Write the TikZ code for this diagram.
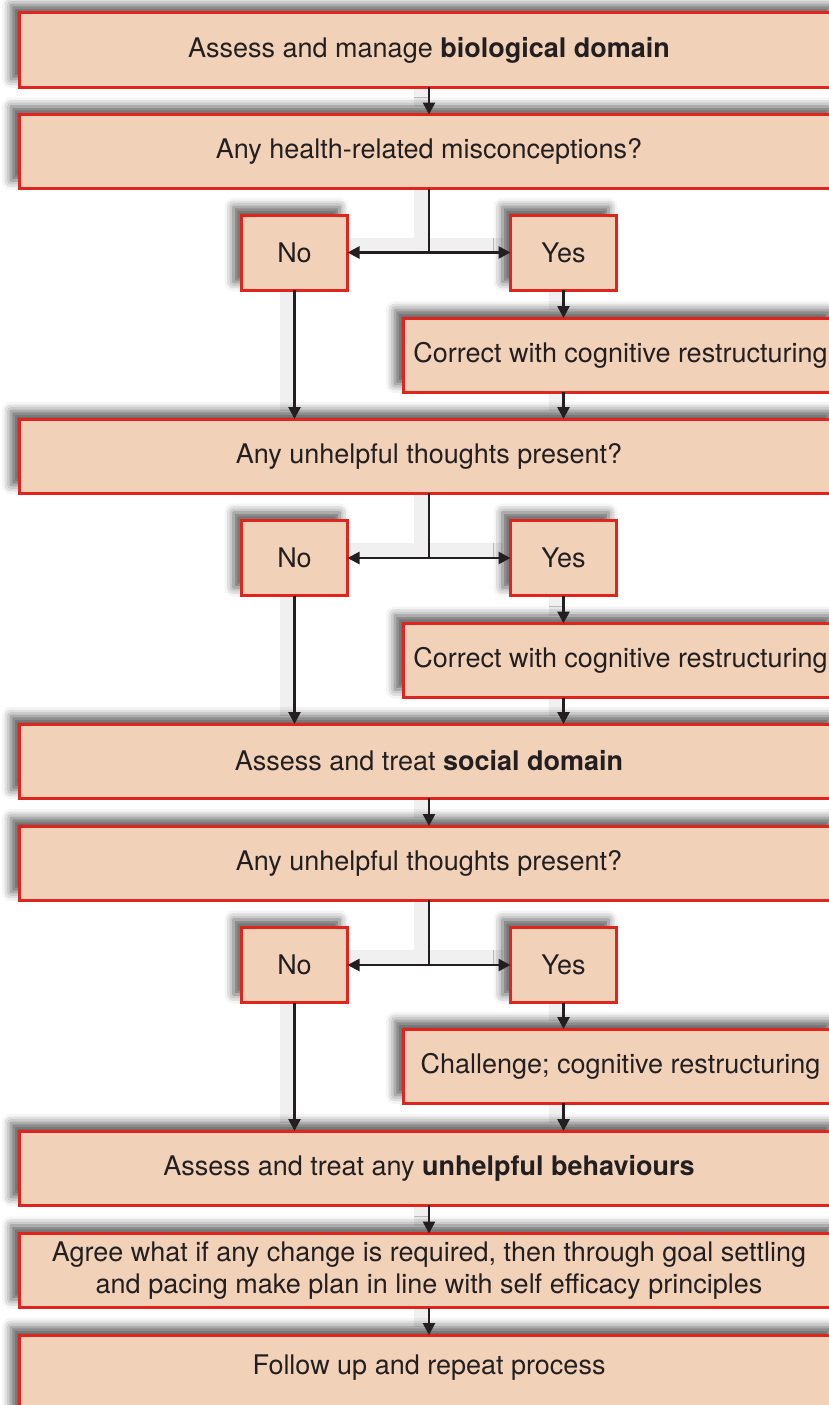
\documentclass[tikz,border=0pt]{standalone}
\usepackage{fontspec}
\setmainfont{TeX Gyre Heros}
\usetikzlibrary{arrows.meta,shadows.blur}
\definecolor{boxfill}{RGB}{242,209,185}
\definecolor{boxline}{RGB}{224,36,30}
\definecolor{ink}{RGB}{35,31,32}
\pgfdeclarelayer{wireshadow}
\pgfdeclarelayer{wires}
\pgfsetlayers{wireshadow,main,wires}

\tikzset{
  box/.style={draw=boxline, fill=boxfill, line width=3pt, text=ink,
    inner sep=0pt, outer sep=0pt, align=center,
    font=\fontsize{27}{32}\selectfont,
    blur shadow={shadow xshift=-8pt, shadow yshift=8pt,
      shadow blur radius=9pt, shadow opacity=65}},
  wide/.style={box, minimum width=820pt, minimum height=74pt},
  choice/.style={box, minimum width=106pt, minimum height=75pt},
  fixbox/.style={box, minimum width=435pt, minimum height=74pt},
  plain/.style={draw=ink, line width=2.6pt},
  arr/.style={plain, -{Triangle[length=12pt,width=12pt]}},
  dbl/.style={plain, {Triangle[length=12pt,width=12pt]}-{Triangle[length=12pt,width=12pt]}},
  wireshade/.style={draw=black!6, line width=14pt, -,
    transform canvas={xshift=-8pt, yshift=8pt}},
}

% a connector with its soft shadow underneath the boxes
\newcommand{\flowlink}[2][arr]{%
  \begin{pgfonlayer}{wireshadow}\draw[wireshade] #2;\end{pgfonlayer}%
  \begin{pgfonlayer}{wires}\draw[#1] #2;\end{pgfonlayer}}

\begin{document}
\begin{tikzpicture}[x=1pt, y=-1pt]
\useasboundingbox (0,0) rectangle (828,1405);

% main column
\node[wide] (b1) at (429,50) {Assess and manage \textbf{biological domain}};
\node[wide] (b2) at (429,151.5) {Any health-related misconceptions?};
\node[choice] (no1) at (294.5,252.5) {No};
\node[choice] (yes1) at (563.5,252.5) {Yes};
\node[fixbox] (c1) at (620.5,355) {Correct with cognitive restructuring};

\node[wide] (b3) at (429,456) {Any unhelpful thoughts present?};
\node[choice] (no2) at (294.5,558) {No};
\node[choice] (yes2) at (563.5,558) {Yes};
\node[fixbox] (c2) at (620.5,660.5) {Correct with cognitive restructuring};

\node[wide] (b4) at (429,761) {Assess and treat \textbf{social domain}};
\node[wide] (b5) at (429,863) {Any unhelpful thoughts present?};
\node[choice] (no3) at (294.5,965) {No};
\node[choice] (yes3) at (563.5,965) {Yes};
\node[fixbox] (c3) at (620.5,1066) {Challenge; cognitive restructuring};

\node[wide] (b6) at (429,1168) {Assess and treat any \textbf{unhelpful behaviours}};
\node[wide] (b7) at (429,1270.5) {Agree what if any change is required, then through goal settling\\and pacing make plan in line with self efficacy principles};
\node[wide, minimum height=84pt] (b8) at (429,1377) {};
\node[text=ink, font=\fontsize{27}{32}\selectfont] (t8) at (429,1368) {Follow up and repeat process};

% connectors
\flowlink{(b1.south) -- (b2.north)}

\flowlink[plain]{(b2.south) -- (b2.south |- no1.east)}
\flowlink[dbl]{(no1.east) -- (yes1.west)}
\flowlink{(yes1.south) -- (yes1.south |- c1.north)}
\flowlink{(yes1.south |- c1.south) -- (yes1.south |- b3.north)}
\flowlink{(no1.south) -- (no1.south |- b3.north)}

\flowlink[plain]{(b3.south) -- (b3.south |- no2.east)}
\flowlink[dbl]{(no2.east) -- (yes2.west)}
\flowlink{(yes2.south) -- (yes2.south |- c2.north)}
\flowlink{(yes2.south |- c2.south) -- (yes2.south |- b4.north)}
\flowlink{(no2.south) -- (no2.south |- b4.north)}

\flowlink{(b4.south) -- (b5.north)}

\flowlink[plain]{(b5.south) -- (b5.south |- no3.east)}
\flowlink[dbl]{(no3.east) -- (yes3.west)}
\flowlink{(yes3.south) -- (yes3.south |- c3.north)}
\flowlink{(yes3.south |- c3.south) -- (yes3.south |- b6.north)}
\flowlink{(no3.south) -- (no3.south |- b6.north)}

\flowlink{(b6.south) -- (b7.north)}
\flowlink{(b7.south) -- (b8.north)}
\end{tikzpicture}
\end{document}
